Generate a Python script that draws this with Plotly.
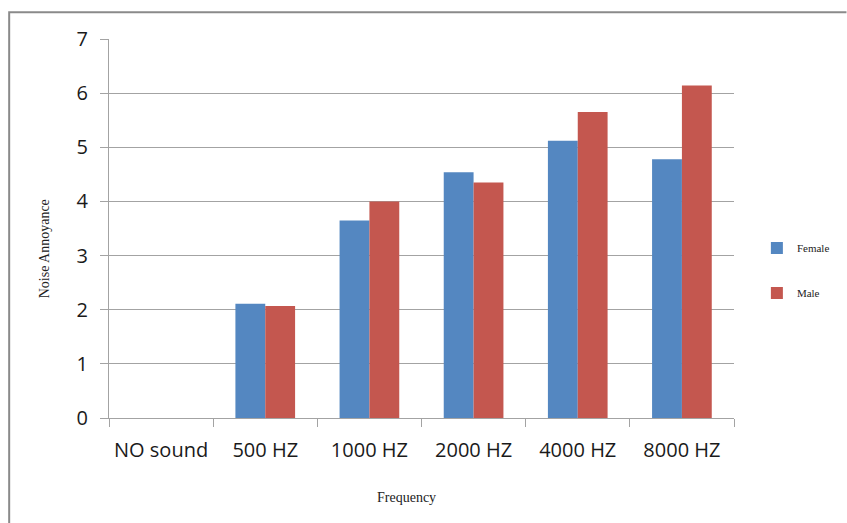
import plotly.graph_objects as go

categories = ["NO sound", "500 HZ", "1000 HZ", "2000 HZ", "4000 HZ", "8000 HZ"]
female = [0, 2.11, 3.65, 4.54, 5.12, 4.78]
male = [0, 2.07, 4.00, 4.35, 5.65, 6.14]

W, H = 847, 523
L, R, T, B = 109, 110, 39, 105
pw, ph = W - L - R, H - T - B

def px(x):
    return (x - L) / pw

def py(y):
    return (H - B - y) / ph

fig = go.Figure()
fig.add_trace(go.Bar(x=categories, y=female, name="Female", legendgroup="f",
                     marker=dict(color="#5487C1", line=dict(width=0))))
fig.add_trace(go.Bar(x=categories, y=male, name="Male", legendgroup="m",
                     marker=dict(color="#C4574F", line=dict(width=0))))

grid = "#a3a3a3"
fig.update_layout(
    width=W, height=H,
    margin=dict(l=L, r=R, t=T, b=B),
    paper_bgcolor="white", plot_bgcolor="white",
    barmode="group", bargap=0.427, bargroupgap=0,
    showlegend=True,
    legend=dict(x=px(760), xanchor="left", y=py(270.5), yanchor="middle",
                font=dict(family="Liberation Serif", size=11, color="#222"),
                tracegroupgap=26, bgcolor="rgba(0,0,0,0)"),
    xaxis=dict(showline=True, linecolor=grid, linewidth=1,
               ticks="outside", ticklen=8, tickcolor=grid, tickson="boundaries",
               tickfont=dict(family="Open Sans", size=20, color="#1a1a1a"),
               ticklabelstandoff=14,
               showgrid=False, fixedrange=True),
    yaxis=dict(range=[0, 7], dtick=1, showline=True, linecolor=grid, linewidth=1,
               ticks="outside", ticklen=8, tickcolor=grid,
               showgrid=True, gridcolor=grid, gridwidth=1, zeroline=False,
               tickfont=dict(family="Open Sans", size=20, color="#1a1a1a"),
               ticklabelstandoff=8),
    annotations=[
        dict(text="Noise Annoyance", xref="paper", yref="paper",
             x=px(44), y=py(249), textangle=-90, showarrow=False,
             xanchor="center", yanchor="middle",
             font=dict(family="Liberation Serif", size=14, color="#222")),
        dict(text="Frequency", xref="paper", yref="paper",
             x=px(408), y=py(497), showarrow=False,
             xanchor="center", yanchor="middle",
             font=dict(family="Liberation Serif", size=14, color="#222")),
    ],
    shapes=[
        dict(type="path", xref="paper", yref="paper",
             path=f"M {px(8.7)} {py(530)} L {px(8.7)} {py(12.3)} L {px(850)} {py(12.3)}",
             line=dict(color="#8a8a8a", width=2)),
    ],
)

fig.write_html("out.html")
